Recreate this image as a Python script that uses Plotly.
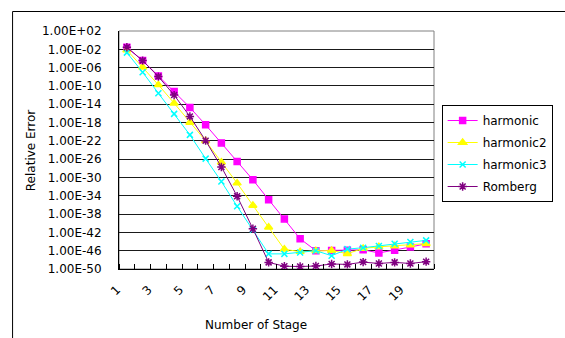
import plotly.graph_objects as go

# Stage numbers and relative error for each method
stages = list(range(1, 21))

harmonic = [2.75e-2, 3.4e-5, 1.5e-8, 5.8e-12, 1.9e-15, 3.1e-19, 3.6e-23, 3.1e-27,
            3.1e-31, 1.4e-35, 8.9e-40, 4.0e-44, 1.0e-46, 1.1e-46, 1.25e-46, 1.6e-46,
            3.2e-47, 1.25e-46, 6.3e-46, 3.2e-45]
harmonic2 = [7.1e-3, 1.2e-6, 1.7e-10, 1.7e-14, 1.0e-18, 1.0e-22, 2.2e-27, 5.8e-32,
             7.9e-37, 1.3e-41, 2.0e-46, 6.3e-47, 1.0e-46, 1.1e-46, 2.2e-47, 3.2e-46,
             7.1e-46, 1.1e-45, 1.8e-45, 3.5e-45]
harmonic3 = [1.9e-3, 1.0e-7, 2.5e-12, 7.9e-17, 2.0e-21, 1.3e-26, 1.3e-31, 5.0e-37,
             4.0e-42, 2.0e-47, 2.0e-47, 4.0e-47, 1.0e-46, 7.9e-48, 2.2e-46, 4.5e-46,
             1.1e-45, 3.2e-45, 7.9e-45, 1.8e-44]
romberg = [2.75e-2, 3.4e-5, 1.1e-8, 1.0e-12, 2.2e-17, 1.1e-22, 2.0e-28, 7.9e-35,
           6.3e-42, 2.8e-49, 4.0e-50, 3.5e-50, 4.5e-50, 1.25e-49, 1.0e-49, 3.2e-49,
           1.6e-49, 2.8e-49, 1.6e-49, 4.0e-49]

x_tick_vals = [1, 3, 5, 7, 9, 11, 13, 15, 17, 19]
x_tick_text = [str(v) for v in x_tick_vals]
y_exponents = list(range(2, -51, -4))
y_tick_vals = [10.0 ** e for e in y_exponents]
y_tick_text = ["1.00E%+03d" % e for e in y_exponents]

FONT = "DejaVu Sans, Arial, sans-serif"
FS = 12

series = [
    ("harmonic", harmonic, "#FF00FF", "square", 6),
    ("harmonic2", harmonic2, "#FFFF00", "triangle-up", 7),
    ("harmonic3", harmonic3, "#00FFFF", "x-thin-open", 6),
    ("Romberg", romberg, "#800080", "asterisk-open", 7),
]

fig = go.Figure()
for name, vals, color, symbol, size in series:
    fig.add_trace(go.Scatter(
        x=stages, y=vals, name=name, mode="lines+markers",
        legendgroup=name,
        line=dict(color=color, width=1),
        marker=dict(symbol=symbol, size=size, color=color,
                    line=dict(color=color, width=1.5)),
    ))

W, H = 565, 338
L, R, T, B = 119, 116, 31, 69
pw, ph = W - L - R, H - T - B


def px_x(p):
    return (p - L) / pw


def px_y(p):
    return (H - B - p) / ph


fig.update_layout(
    width=W, height=H,
    margin=dict(l=L, r=R, t=T, b=B),
    paper_bgcolor="white", plot_bgcolor="white",
    font=dict(family=FONT, size=FS, color="black"),
    showlegend=True,
    legend=dict(
        x=px_x(457), y=px_y(105), xanchor="left", yanchor="top",
        bordercolor="black", borderwidth=1, bgcolor="white",
        font=dict(family=FONT, size=FS), itemwidth=30,
        tracegroupgap=3,
    ),
    xaxis=dict(
        range=[0.5, 20.5], tickmode="array", tickvals=x_tick_vals,
        ticktext=x_tick_text, tickangle=-45, ticks="",
        showgrid=False, zeroline=False,
        showline=True, linecolor="black", linewidth=1,
        ticklabelshift=-10, ticklabelstandoff=8,
        tickfont=dict(family=FONT, size=FS),
        minor=dict(tick0=0.5, dtick=1, ticks="inside", ticklen=5,
                   tickcolor="black", tickwidth=1, showgrid=False),
    ),
    yaxis=dict(
        type="log", range=[-50, 2], tickmode="array",
        tickvals=y_tick_vals, ticktext=y_tick_text, ticks="",
        showgrid=True, gridcolor="#1a1a1a", gridwidth=1,
        showline=True, linecolor="black", linewidth=1, zeroline=False,
        ticklabelstandoff=14,
        tickfont=dict(family=FONT, size=FS),
    ),
    shapes=[
        # plot area frame
        dict(type="rect", xref="paper", yref="paper", x0=0, x1=1, y0=0, y1=1,
             line=dict(color="#808080", width=1), layer="below"),
        # chart area frame
        dict(type="rect", xref="paper", yref="paper",
             x0=px_x(7.5), x1=px_x(700), y0=px_y(500), y1=px_y(11.5),
             line=dict(color="black", width=1), layer="below"),
    ],
    annotations=[
        dict(text="Number of Stage", xref="paper", yref="paper",
             x=px_x(262), y=px_y(325), xanchor="center", yanchor="middle",
             showarrow=False, font=dict(family=FONT, size=FS)),
        dict(text="Relative Error", xref="paper", yref="paper",
             x=px_x(27), y=0.5, xanchor="center", yanchor="middle",
             textangle=-90, showarrow=False, font=dict(family=FONT, size=FS)),
    ],
)

fig.write_html("out.html")
